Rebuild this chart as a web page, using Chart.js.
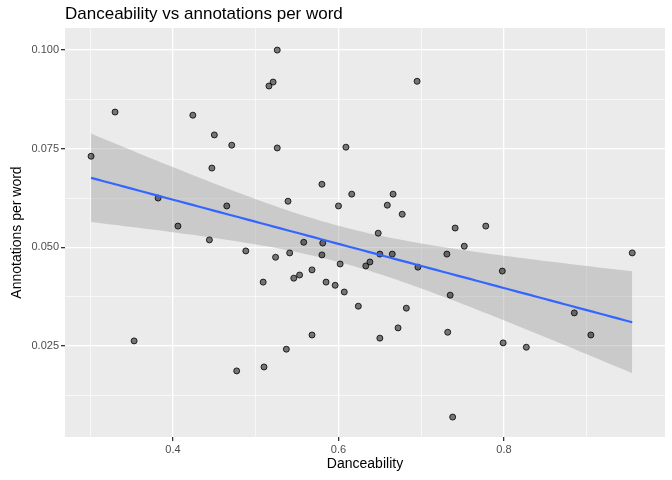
<!DOCTYPE html>
<html><head><meta charset="utf-8">
<script src="https://cdn.jsdelivr.net/npm/chart.js@4"></script>
<style>html,body{margin:0;padding:0;background:#fff}#c{display:block}</style>
</head><body>
<canvas id="c" width="672" height="480"></canvas>
<script>
const danceability=[0.301,0.330,0.353,0.382,0.406,0.424,0.444,0.447,0.450,0.465,0.471,0.477,0.488,0.509,0.510,0.516,0.521,0.526,0.526,0.524,0.537,0.539,0.541,0.546,0.553,0.558,0.568,0.568,0.580,0.580,0.581,0.585,0.596,0.600,0.602,0.607,0.609,0.616,0.624,0.633,0.638,0.648,0.650,0.650,0.659,0.665,0.666,0.672,0.677,0.682,0.695,0.696,0.731,0.732,0.735,0.738,0.741,0.752,0.778,0.798,0.799,0.827,0.885,0.905,0.955];
const annotations=[0.0731,0.0843,0.0263,0.0625,0.0554,0.0835,0.0519,0.0701,0.0785,0.0605,0.0759,0.0187,0.0491,0.0412,0.0197,0.0909,0.0919,0.100,0.0752,0.0475,0.0242,0.0617,0.0486,0.0422,0.0430,0.0513,0.0443,0.0278,0.0660,0.0481,0.0511,0.0412,0.0404,0.0605,0.0458,0.0387,0.0754,0.0635,0.0351,0.0453,0.0463,0.0536,0.0483,0.0270,0.0607,0.0483,0.0635,0.0296,0.0584,0.0346,0.0921,0.0450,0.0483,0.0285,0.0379,0.0070,0.0549,0.0503,0.0554,0.0440,0.0258,0.0247,0.0334,0.0278,0.0486];
const xTicks=[0.3,0.4,0.5,0.6,0.7,0.8,0.9];
const yTicks=[0.0125,0.025,0.0375,0.05,0.0625,0.075,0.0875,0.1];
const n=Math.min(danceability.length,annotations.length);
const pts=[];for(let i=0;i<n;i++)pts.push({x:danceability[i],y:annotations[i]});
let mx=0,my=0;pts.forEach(p=>{mx+=p.x;my+=p.y});mx/=n;my/=n;
let sxx=0,sxy=0;pts.forEach(p=>{sxx+=(p.x-mx)**2;sxy+=(p.x-mx)*(p.y-my)});
const b=sxy/sxx,a=my-b*mx;let sse=0;pts.forEach(p=>{sse+=(p.y-a-b*p.x)**2});
const s=Math.sqrt(sse/(n-2)),t=2.0;
const xmin=Math.min(...danceability),xmax=Math.max(...danceability);
const fit=[],up=[],lo=[];
for(let k=0;k<=80;k++){const x=xmin+(xmax-xmin)*k/80,yh=a+b*x,se=s*Math.sqrt(1/n+(x-mx)**2/sxx);
fit.push({x,y:yh});up.push({x,y:yh+t*se});lo.push({x,y:yh-t*se});}
const bg={id:'bg',beforeDraw(c){const {ctx,chartArea:ca}=c;ctx.save();ctx.fillStyle='#EBEBEB';ctx.fillRect(ca.left,ca.top,ca.right-ca.left,ca.bottom-ca.top);ctx.restore();},
afterDraw(c){const ctx=c.ctx;ctx.save();ctx.fillStyle='#000';ctx.font='17px "Liberation Sans", Arial';ctx.textBaseline='middle';ctx.fillText('Danceability vs annotations per word',65,14);ctx.restore();}};
const major=(v,set)=>set.some(m=>Math.abs(m-v)<1e-6);
new Chart(document.getElementById('c'),{type:'scatter',
data:{datasets:[
{type:'line',data:lo,borderWidth:0,pointRadius:0,fill:false,order:3},
{type:'line',data:up,borderWidth:0,pointRadius:0,fill:'-1',backgroundColor:'rgba(153,153,153,0.4)',order:3},
{type:'line',data:fit,borderColor:'#3366FF',borderWidth:2.2,pointRadius:0,fill:false,order:1},
{data:pts,backgroundColor:'rgba(0,0,0,0.5)',borderColor:'#000',borderWidth:0.8,pointRadius:3,order:2}
]},
options:{responsive:false,animation:false,layout:{padding:{top:28,right:7,bottom:3,left:5}},
plugins:{legend:{display:false},tooltip:{enabled:false}},
scales:{
x:{type:'linear',min:0.2695,max:0.9946,afterBuildTicks:s=>{s.ticks=xTicks.map(v=>({value:v}))},
afterFit:s=>{s.height=40},border:{display:false},
grid:{color:'#fff',lineWidth:c=>major(c.tick.value,[0.4,0.6,0.8])?1.3:0.6,tickLength:4,tickColor:c=>major(c.tick.value,[0.4,0.6,0.8])?'#333':'rgba(0,0,0,0)'},
ticks:{color:'#4D4D4D',font:{size:11,family:'"Liberation Sans", Arial'},padding:2,callback:v=>major(v,[0.4,0.6,0.8])?v.toFixed(1):''},
title:{display:true,text:'Danceability',color:'#000',font:{size:14,family:'"Liberation Sans", Arial'},padding:{top:2}}},
y:{type:'linear',min:0.00195,max:0.1056,afterBuildTicks:s=>{s.ticks=yTicks.map(v=>({value:v}))},
afterFit:s=>{s.width=60},border:{display:false},
grid:{color:'#fff',lineWidth:c=>major(c.tick.value,[0.025,0.05,0.075,0.1])?1.3:0.6,tickLength:4,tickColor:c=>major(c.tick.value,[0.025,0.05,0.075,0.1])?'#333':'rgba(0,0,0,0)'},
ticks:{color:'#4D4D4D',font:{size:11,family:'"Liberation Sans", Arial'},padding:2,callback:v=>major(v,[0.025,0.05,0.075,0.1])?v.toFixed(3):''},
title:{display:true,text:'Annotations per word',color:'#000',font:{size:14,family:'"Liberation Sans", Arial'},padding:{bottom:2}}}
}},plugins:[bg]});
</script></body></html>
